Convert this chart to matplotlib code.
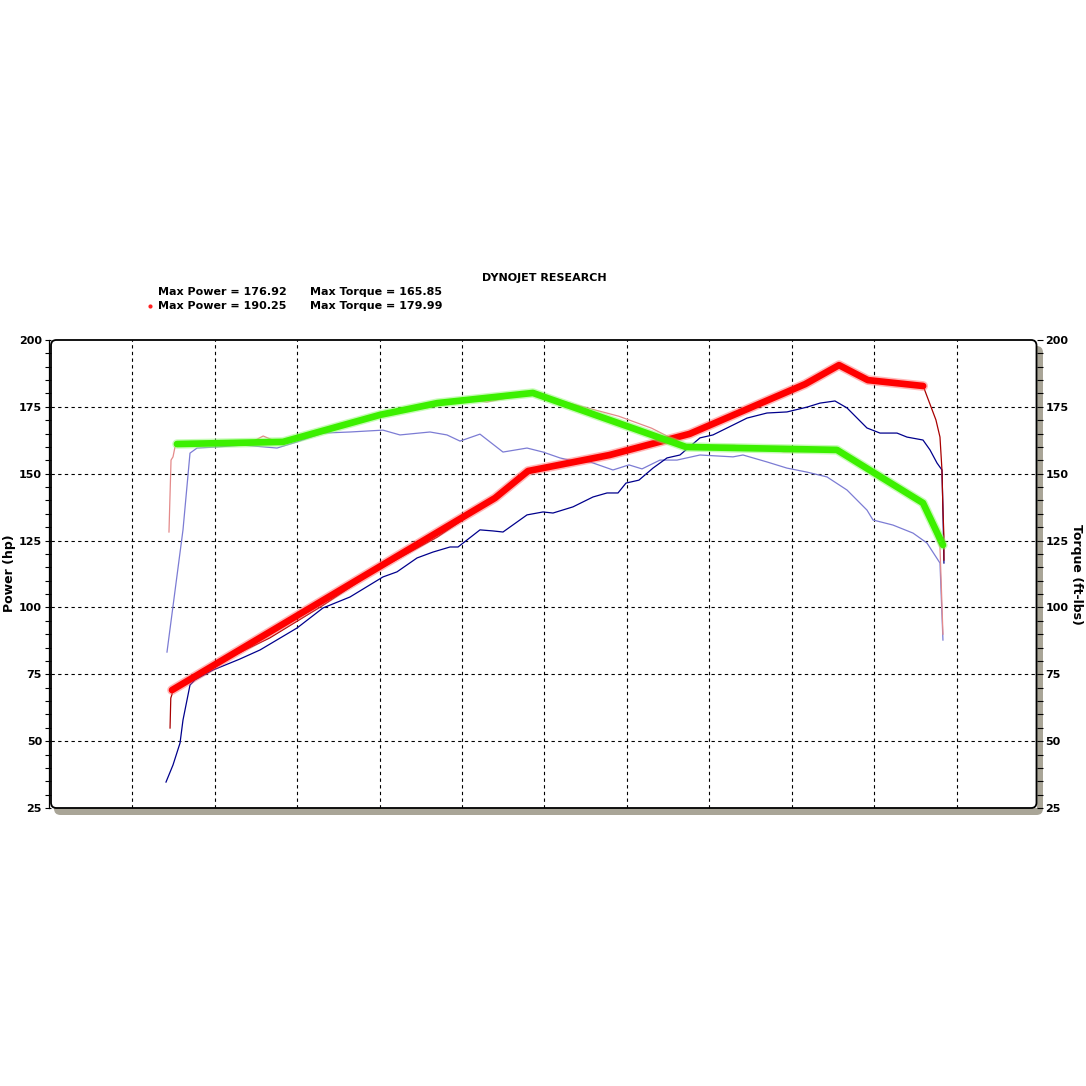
import matplotlib
matplotlib.use('Agg')
import matplotlib.pyplot as plt
import matplotlib.patheffects as pe
from matplotlib.patches import FancyBboxPatch
from matplotlib.lines import Line2D

# Dyno chart: two runs, power (hp) and torque (ft-lbs) vs rpm (x1000)

# run 1 power (navy, thin)
pwr1_rpm = [1.412, 1.497, 1.582, 1.618, 1.703, 1.764, 1.982, 2.30, 2.552, 3.000, 3.315,
            3.642, 4.042, 4.212, 4.455, 4.648, 4.855, 4.952, 5.218, 5.376, 5.497, 5.788,
            5.982, 6.103, 6.345, 6.588, 6.758, 6.891, 6.988, 7.145, 7.315, 7.485, 7.642,
            7.885, 8.042, 8.285, 8.455, 8.697, 8.939, 9.182, 9.339, 9.521, 9.667, 9.909,
            10.067, 10.273, 10.394, 10.588, 10.673, 10.758, 10.818, 10.830, 10.842]
pwr1_hp = [34.7, 41.1, 49.3, 57.9, 71.0, 72.9, 76.6, 80.6, 84.1, 92.3, 99.8,
           103.9, 111.4, 113.3, 118.5, 120.7, 122.6, 122.6, 129.0, 128.6, 128.2, 134.6,
           135.7, 135.3, 137.6, 141.3, 142.8, 142.8, 146.5, 147.6, 152.1, 155.9, 157.0,
           163.4, 164.5, 168.2, 170.8, 172.7, 173.1, 174.9, 176.4, 177.2, 174.6, 167.1,
           165.2, 165.2, 163.7, 162.6, 158.9, 154.0, 151.4, 136.4, 116.6]

# run 1 torque (lavender, thin)
tq1_rpm = [1.424, 1.618, 1.703, 1.788, 2.030, 2.345, 2.758, 3.000, 3.315, 3.642, 4.042,
           4.248, 4.612, 4.818, 4.976, 5.218, 5.497, 5.788, 5.982, 6.188, 6.345, 6.552,
           6.830, 7.024, 7.182, 7.400, 7.606, 7.885, 8.285, 8.406, 8.697, 8.939, 9.182,
           9.424, 9.667, 9.909, 9.982, 10.224, 10.467, 10.636, 10.794, 10.830]
tq1_ftlb = [83.3, 129.0, 157.7, 159.6, 160.0, 160.7, 159.6, 161.9, 165.2, 165.6, 166.3,
            164.5, 165.6, 164.5, 162.2, 164.8, 158.1, 159.6, 158.1, 155.9, 154.8, 154.4,
            151.4, 153.3, 151.8, 155.1, 155.1, 157.0, 156.3, 157.0, 154.4, 152.1, 150.6,
            148.8, 143.9, 136.4, 132.7, 130.8, 127.8, 124.1, 116.6, 87.8]

# run 2 power (dark red, thin)
pwr2_rpm = [1.461, 1.470, 1.485, 1.490, 2.10, 2.67, 2.85, 3.30, 3.90, 4.70, 5.40, 5.80,
            6.79, 7.30, 7.76, 8.50, 9.16, 9.57, 9.92, 10.59, 10.745, 10.794, 10.818,
            10.830, 10.842, 10.842]
pwr2_hp = [54.9, 66.1, 67.5, 69.1, 80.0, 88.6, 92.0, 100.5, 112.7, 126.3, 140.9, 151.0,
           157.0, 161.0, 164.9, 174.0, 183.5, 190.6, 185.0, 182.8, 170.1, 163.7, 151.4,
           136.4, 126.3, 117.7]

# run 2 torque (pink, thin)
tq2_rpm = [1.448, 1.473, 1.497, 1.521, 1.545, 2.00, 2.45, 2.59, 2.75, 2.83, 3.50, 4.006,
           4.70, 5.00, 5.30, 5.86, 6.30, 6.90, 7.30, 7.715, 8.30, 8.90, 9.545, 9.90,
           10.30, 10.588, 10.794, 10.830]
tq2_ftlb = [128.2, 155.1, 156.3, 160.0, 161.1, 161.4, 161.8, 164.1, 162.0, 161.9, 167.5,
            172.0, 176.4, 178.2, 176.8, 180.2, 176.4, 171.5, 167.0, 160.5, 160.6, 158.2,
            158.4, 152.0, 144.0, 139.5, 122.6, 90.0]

# hand-drawn overlay lines (thick red = power, thick green = torque)
red_rpm = [1.485, 5.40, 5.80, 6.79, 7.76, 9.16, 9.57, 9.92, 10.59]
red_hp = [69.1, 140.9, 151.0, 157.0, 164.9, 183.5, 190.6, 185.0, 182.8]
green_rpm = [1.545, 2.83, 4.006, 4.70, 5.86, 7.715, 9.545, 10.588, 10.83]
green_ftlb = [161.1, 161.9, 172.0, 176.4, 180.2, 160.0, 158.9, 139.05, 123.35]

grid_rpm = list(range(1, 12))
grid_y = [50, 75, 100, 125, 150, 175]

W = 1086.0
def fx(px):
    return px / W
def fy(py):
    return 1 - py / W

fig = plt.figure(figsize=(10.86, 10.86), dpi=100)
fig.patch.set_facecolor('white')

# shadow behind the plot frame
shadow = FancyBboxPatch((fx(54), fy(815)), fx(1043) - fx(54), fy(346) - fy(815),
                        boxstyle='round,pad=0,rounding_size=0.006',
                        transform=fig.transFigure, fc='#a9a597', ec='none', zorder=-5)
fig.add_artist(shadow)

ax = fig.add_axes([fx(51), fy(808), fx(1036.5) - fx(51), fy(340) - fy(808)])
ax.set_facecolor('white')
ax.set_xlim(0.018, 11.964)
ax.set_ylim(25, 200)
for s in ax.spines.values():
    s.set_visible(False)

for g in grid_rpm:
    ax.axvline(g, color='black', lw=0.8, ls=(0, (3, 3)), zorder=1)
for h in grid_y:
    ax.axhline(h, color='black', lw=0.8, ls=(0, (3, 3)), zorder=1)

ax.plot(tq1_rpm, tq1_ftlb, color='#7c7cd4', lw=0.9, zorder=2)
ax.plot(tq2_rpm, tq2_ftlb, color='#e48a8a', lw=0.9, zorder=2)
ax.plot(pwr1_rpm, pwr1_hp, color='#00008c', lw=0.9, zorder=2)
ax.plot(pwr2_rpm, pwr2_hp, color='#a80000', lw=0.9, zorder=2)

ax.plot(red_rpm, red_hp, color='#ff0000', lw=4.8, zorder=3,
        solid_capstyle='round', solid_joinstyle='round',
        path_effects=[pe.Stroke(linewidth=7, foreground='#ff6060', alpha=0.45), pe.Normal()])
ax.plot(green_rpm, green_ftlb, color='#3cf000', lw=4.8, zorder=4,
        solid_capstyle='round', solid_joinstyle='round',
        path_effects=[pe.Stroke(linewidth=6.8, foreground='#90f870', alpha=0.5), pe.Normal()])

ax.set_xticks([])
ax.set_yticks(range(25, 201, 25))
ax.set_yticks(range(25, 201, 5), minor=True)
ax.tick_params(axis='y', which='both', direction='out', length=4, width=0.8,
               left=True, right=True, labelleft=True, labelright=True, labelsize=8)
ax.tick_params(axis='y', which='major', pad=2.5)
for lab in ax.get_yticklabels():
    lab.set_fontweight('bold')

# frame with rounded corners
frame = FancyBboxPatch((fx(51), fy(808)), fx(1036.5) - fx(51), fy(340) - fy(808),
                       boxstyle='round,pad=0,rounding_size=0.005',
                       transform=fig.transFigure, fc='none', ec='black', lw=1.3, zorder=5)
fig.add_artist(frame)
fig.add_artist(Line2D([fx(48.8), fx(48.8)], [fy(808), fy(340)], color='black', lw=0.9,
                      transform=fig.transFigure))

# header
fig.text(fx(544), fy(278), 'DYNOJET RESEARCH', ha='center', va='center',
         fontsize=8, fontweight='bold')
fig.text(fx(158), fy(292), 'Max Power = 176.92', ha='left', va='center',
         fontsize=8, fontweight='bold')
fig.text(fx(310), fy(292), 'Max Torque = 165.85', ha='left', va='center',
         fontsize=8, fontweight='bold')
fig.text(fx(158), fy(306), 'Max Power = 190.25', ha='left', va='center',
         fontsize=8, fontweight='bold')
fig.text(fx(310), fy(306), 'Max Torque = 179.99', ha='left', va='center',
         fontsize=8, fontweight='bold')
fig.add_artist(Line2D([fx(150)], [fy(306)], marker='o', ms=3, color='#ff2020',
                      mec='none', transform=fig.transFigure))

fig.text(fx(10), fy(573), 'Power (hp)', rotation=90, ha='center', va='center',
         fontsize=9, fontweight='bold')
fig.text(fx(1077), fy(574), 'Torque (ft-lbs)', rotation=270, ha='center', va='center',
         fontsize=9, fontweight='bold')

fig.savefig('out.png', dpi=100, facecolor='white')
